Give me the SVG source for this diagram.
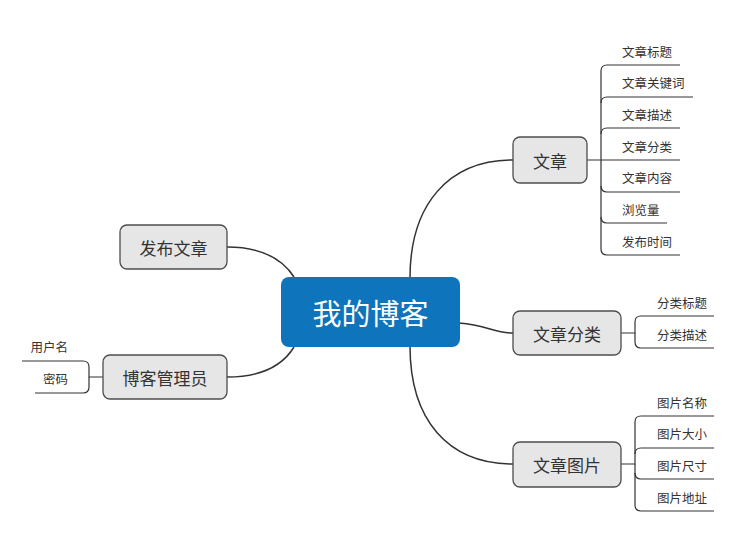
<svg xmlns="http://www.w3.org/2000/svg" width="750" height="552" viewBox="0 0 750 552">
<style>
text{font-family:"Noto Sans CJK SC","Noto Sans",sans-serif;fill:#333}
.node rect{fill:#e6e6e6;stroke:#4d4d4d;stroke-width:1.3}
.node text{font-size:17px;text-anchor:middle;dominant-baseline:central}
.leaf text{font-size:12.5px}
.conn path{fill:none;stroke:#333;stroke-width:1.5}
.leafline path{fill:none;stroke:#333;stroke-width:1.2}
</style>
<rect width="750" height="552" fill="#fff"/>
<g class="conn" id="connectors">
<path d="M410 278 C410 205 448 160 513 160"/>
<path d="M459 323 C487 325 494 333 513 333"/>
<path d="M410 346 C410 420 448 464 513 464"/>
<path d="M227 247 C262 247 283 260 294 277"/>
<path d="M227 377 C262 377 283 365 294 347"/>
</g>
<g class="leafline" id="leaf-connectors">
<path d="M587 160 H601 V71 Q601 65 607 65 H680"/>
<path d="M601 103 Q601 97 607 97 H693"/>
<path d="M601 134 Q601 128 607 128 H680"/>
<path d="M601 160 H680"/>
<path d="M601 186 Q601 192 607 192 H680"/>
<path d="M601 217 Q601 223 607 223 H667"/>
<path d="M601 160 V249 Q601 255 607 255 H680"/>
<path d="M621 333 H635 V322 Q635 316 641 316 H714"/>
<path d="M635 333 V342 Q635 348 641 348 H714"/>
<path d="M621 464 H635 V422 Q635 416 641 416 H714"/>
<path d="M635 454 Q635 448 641 448 H714"/>
<path d="M635 473 Q635 479 641 479 H714"/>
<path d="M635 464 V505 Q635 511 641 511 H714"/>
<path d="M103 377 H89 V367 Q89 361 83 361 H22"/>
<path d="M89 377 V387 Q89 393 83 393 H35"/>
</g>
<g id="root">
<rect x="281" y="277" width="179" height="70" rx="8" fill="#0e74bc"/>
<text x="370.5" y="312" font-size="29" text-anchor="middle" dominant-baseline="central" style="fill:#fff">我的博客</text>
</g>
<g class="node" id="n-wenzhang"><rect x="513" y="137" width="74" height="46" rx="7"/><text x="550" y="160">文章</text></g>
<g class="node" id="n-fenlei"><rect x="513" y="311" width="108" height="44" rx="7"/><text x="567" y="333">文章分类</text></g>
<g class="node" id="n-tupian"><rect x="513" y="442" width="108" height="45" rx="7"/><text x="567" y="464.5">文章图片</text></g>
<g class="node" id="n-fabu"><rect x="120" y="225" width="107" height="44" rx="7"/><text x="173.5" y="247">发布文章</text></g>
<g class="node" id="n-admin"><rect x="103" y="355" width="124" height="44" rx="7"/><text x="165" y="377">博客管理员</text></g>
<g class="leaf" id="l-1"><text x="622" y="57">文章标题</text></g>
<g class="leaf" id="l-2"><text x="622" y="88">文章关键词</text></g>
<g class="leaf" id="l-3"><text x="622" y="120">文章描述</text></g>
<g class="leaf" id="l-4"><text x="622" y="152">文章分类</text></g>
<g class="leaf" id="l-5"><text x="622" y="183">文章内容</text></g>
<g class="leaf" id="l-6"><text x="622" y="215">浏览量</text></g>
<g class="leaf" id="l-7"><text x="622" y="247">发布时间</text></g>
<g class="leaf" id="l-8"><text x="657" y="308">分类标题</text></g>
<g class="leaf" id="l-9"><text x="657" y="340">分类描述</text></g>
<g class="leaf" id="l-10"><text x="657" y="408">图片名称</text></g>
<g class="leaf" id="l-11"><text x="657" y="439">图片大小</text></g>
<g class="leaf" id="l-12"><text x="657" y="471">图片尺寸</text></g>
<g class="leaf" id="l-13"><text x="657" y="503">图片地址</text></g>
<g class="leaf" id="l-14"><text x="68" y="352" text-anchor="end">用户名</text></g>
<g class="leaf" id="l-15"><text x="68" y="384" text-anchor="end">密码</text></g>
</svg>
